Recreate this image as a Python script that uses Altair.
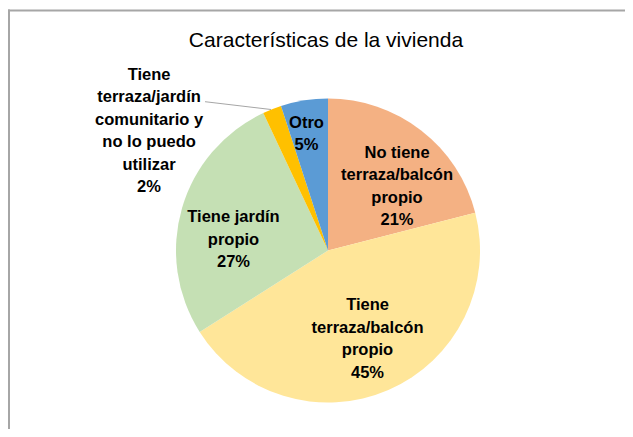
import altair as alt
import pandas as pd

TITLE = "Características de la vivienda"
categories = [
    "No tiene terraza/balcón propio",
    "Tiene terraza/balcón propio",
    "Tiene jardín propio",
    "Tiene terraza/jardín comunitario y no lo puedo utilizar",
    "Otro",
]
values = [21, 45, 27, 2, 5]
label_lines = [
    ["No tiene", "terraza/balcón", "propio", "21%"],
    ["Tiene", "terraza/balcón", "propio", "45%"],
    ["Tiene jardín", "propio", "27%"],
    ["Tiene", "terraza/jardín", "comunitario y", "no lo puedo", "utilizar", "2%"],
    ["Otro", "5%"],
]
colors = ["#F4B183", "#FFE699", "#C5E0B4", "#FFC000", "#5B9BD5"]

# layout (style): per-label radius and offsets of the label block centre
W, H = 617, 421
CX, CY, R = 320, 242.5, 152
LH = 22.5
label_layout = {
    0: (95, 10.8, 10.9),
    1: (95, 1.8, 1.5),
    2: (95, -3.3, 15.7),
    3: (152, -123, 21.8),
    4: (118, -3, 0),
}
FONT = "Liberation Sans"
BORDER = "#a6a6a6"

total = sum(values)
df = pd.DataFrame({
    "cat": categories,
    "value": values,
    "order": list(range(len(categories))),
    "lines": label_lines,
})

theta_scale = alt.Scale(domain=[0, total])

pie = alt.Chart(df).mark_arc(outerRadius=R).encode(
    theta=alt.Theta("value:Q", stack=True, scale=theta_scale),
    color=alt.Color("cat:N", scale=alt.Scale(domain=categories, range=colors), legend=None),
    order=alt.Order("order:Q"),
    x=alt.value(CX),
    y=alt.value(CY),
)

base = alt.Chart(df).transform_window(
    cum="sum(value)", sort=[alt.SortField("order")], frame=[None, 0]
).transform_calculate(mid="datum.cum - datum.value / 2")

layers = [pie]
for i, (r, dx, dy) in label_layout.items():
    n = len(label_lines[i])
    layers.append(
        base.transform_filter(alt.datum.order == i).mark_text(
            radius=r, dx=dx, dy=dy - (n - 1) * LH / 2, font=FONT, fontSize=16.5,
            fontWeight="bold", lineHeight=LH, align="center", baseline="middle",
            color="#000000",
        ).encode(
            theta=alt.Theta("mid:Q", stack=False, scale=theta_scale),
            text="lines:N",
            x=alt.value(CX),
            y=alt.value(CY),
        )
    )

one = pd.DataFrame({"t": [TITLE]})
title = alt.Chart(one).mark_text(
    font=FONT, fontSize=21, align="center", baseline="alphabetic", color="#000000"
).encode(text="t:N", x=alt.value(318), y=alt.value(38.5))

leader = alt.Chart(one).mark_rule(color=BORDER, strokeWidth=1).encode(
    x=alt.value(197), y=alt.value(93.7), x2=alt.value(263), y2=alt.value(101.5)
)
border_top = alt.Chart(one).mark_rule(color=BORDER, strokeWidth=2).encode(
    x=alt.value(0), x2=alt.value(W), y=alt.value(2.5)
)
border_left = alt.Chart(one).mark_rule(color=BORDER, strokeWidth=2).encode(
    x=alt.value(1), y=alt.value(1.5), y2=alt.value(H)
)

chart = alt.layer(border_top, border_left, *layers, leader, title).properties(
    width=W, height=H, autosize=alt.AutoSizeParams(type="none"), padding=0
).configure_view(strokeWidth=0).resolve_scale(theta="shared")

chart.save("out.html", embed_options={"renderer": "svg", "actions": False})
